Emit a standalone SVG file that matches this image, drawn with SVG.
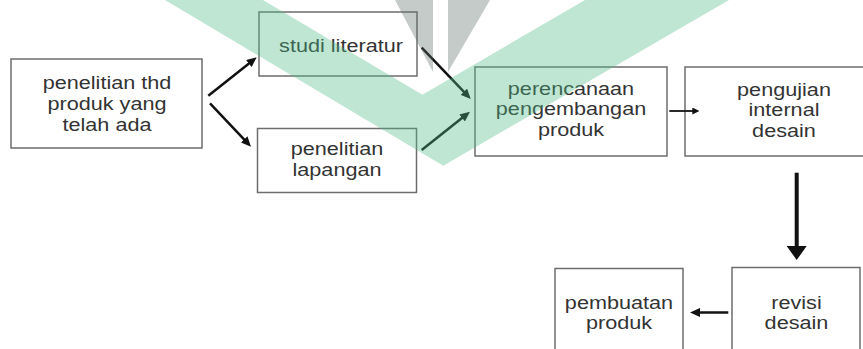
<svg xmlns="http://www.w3.org/2000/svg" width="863" height="349" viewBox="0 0 863 349">
<style>
.box{fill:none;stroke:#6d6d6d;stroke-width:1.5}
.t{font-family:"Liberation Sans",Arial,sans-serif;font-size:18.5px;fill:#333;text-anchor:middle}
.c{stroke:#111;stroke-width:2.5;fill:none}
.wm{fill:rgb(80,188,134);opacity:0.37}
.wg{fill:#5e7369;opacity:0.37}
</style>
<defs>
<marker id="ah" markerUnits="userSpaceOnUse" markerWidth="10" markerHeight="9" refX="3" refY="4.5" orient="auto"><path d="M0,0 L10,4.5 L0,9 z" fill="#111"/></marker>
<marker id="ahs" markerUnits="userSpaceOnUse" markerWidth="7" markerHeight="7" refX="2" refY="3.5" orient="auto"><path d="M0,0 L7,3.5 L0,7 z" fill="#111"/></marker>
<marker id="ahb" markerUnits="userSpaceOnUse" markerWidth="14" markerHeight="20" refX="4" refY="10" orient="auto"><path d="M0,0 L14,10 L0,20 z" fill="#111"/></marker>
</defs>
<rect width="863" height="349" fill="#fff"/>
<g id="n-penelitian-thd">
<rect class="box" x="11" y="59" width="191" height="89"/>
<g transform="translate(107,0) scale(1.17,1)"><text class="t" x="0" y="89.5">penelitian thd</text><text class="t" x="0" y="110.5">produk yang</text><text class="t" x="0" y="131">telah ada</text></g>
</g>
<g id="n-studi-literatur">
<rect class="box" x="259" y="12" width="158" height="64"/>
<g transform="translate(341,0) scale(1.17,1)"><text class="t" x="0" y="52.5">studi literatur</text></g>
</g>
<g id="n-penelitian-lapangan">
<rect class="box" x="257.5" y="128.5" width="159" height="64"/>
<g transform="translate(337,0) scale(1.17,1)"><text class="t" x="0" y="155.5">penelitian</text><text class="t" x="0" y="176">lapangan</text></g>
</g>
<g id="n-perencanaan">
<rect class="box" x="475" y="67" width="192" height="89"/>
<g transform="translate(571,0) scale(1.17,1)"><text class="t" x="0" y="95">perencanaan</text><text class="t" x="0" y="115.5">pengembangan</text><text class="t" x="0" y="136">produk</text></g>
</g>
<g id="n-pengujian">
<rect class="box" x="685" y="67" width="199" height="89"/>
<g transform="translate(784,0) scale(1.17,1)"><text class="t" x="0" y="96">pengujian</text><text class="t" x="0" y="116.5">internal</text><text class="t" x="0" y="137">desain</text></g>
</g>
<g id="n-revisi">
<rect class="box" x="732" y="267.5" width="128" height="89"/>
<g transform="translate(796.5,0) scale(1.17,1)"><text class="t" x="0" y="309.5">revisi</text><text class="t" x="0" y="329">desain</text></g>
</g>
<g id="n-pembuatan">
<rect class="box" x="555" y="268.5" width="128" height="89"/>
<g transform="translate(619,0) scale(1.17,1)"><text class="t" x="0" y="309.5">pembuatan</text><text class="t" x="0" y="329">produk</text></g>
</g>
<g id="connectors">
<line class="c" x1="208.3" y1="95.7" x2="251.2" y2="61.65" marker-end="url(#ah)"/>
<line class="c" x1="210" y1="103.3" x2="246.2" y2="141.6" marker-end="url(#ah)"/>
<line class="c" x1="421.7" y1="47.7" x2="465.9" y2="93.9" marker-end="url(#ah)"/>
<line class="c" x1="421.7" y1="150" x2="464.5" y2="116.05" marker-end="url(#ah)"/>
<line class="c" style="stroke-width:1.8" x1="669.3" y1="111" x2="694.3" y2="111" marker-end="url(#ahs)"/>
<line class="c" style="stroke-width:4" x1="796.7" y1="172.7" x2="796.7" y2="250" marker-end="url(#ahb)"/>
<line class="c" x1="728.3" y1="312.5" x2="697" y2="312.5" marker-end="url(#ah)"/>
</g>
<g id="watermark">
<polygon class="wm" points="165,0 263,0 422.4,94.7 585,0 729,0 443.3,165.7"/>
<polygon class="wg" points="395,0 433,0 433,72"/>
<polygon class="wg" points="448,0 490,0 448,72"/>
</g>
</svg>
